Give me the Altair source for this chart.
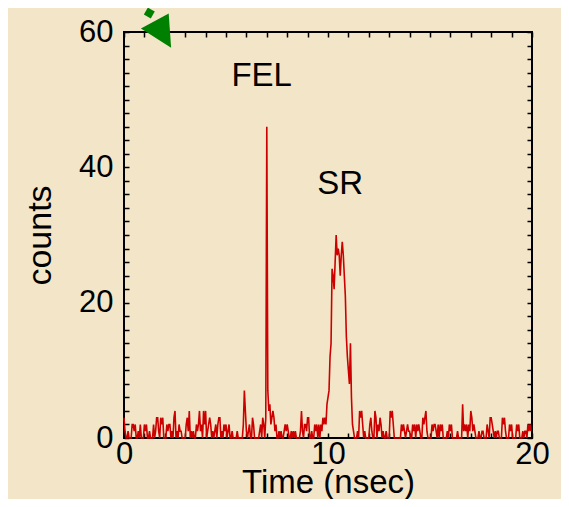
import altair as alt
import pandas as pd

# --- data ---
bin_width = 0.05  # nsec per channel

counts_0_5 = [3,1,0,0,1,0,0,0,2,2, 1,2,0,0,1,0,2,0,0,0, 2,1,2,0,0,1,0,0,0,2,
              0,1,3,3,1,0,3,2,3,0, 0,0,2,1,2,2,0,1,0,3, 4,0,1,0,2,1,1,0,0,0,
              0,2,3,1,4,0,1,0,1,0, 0,2,1,2,4,1,2,0,4,2, 4,0,1,2,3,2,0,1,0,1,
              2,0,2,3,3,0,1,0,2,1]
counts_5_10 = [2,0,1,2,0,0,1,0,0,0, 0,1,0,0,0,0,0,2,7,4, 1,0,1,2,0,0,3,2,0,0,
               0,0,0,1,2,0,3,2,0,3, 46,7,4,5,2,3,4,3,1,2, 0,0,1,0,1,0,0,1,2,1,
               2,1,0,0,1,0,1,0,1,0, 0,0,0,1,4,1,0,2,2,1, 3,3,0,0,1,0,0,2,1,2,
               0,2,0,2,1,3,2,3,2,5]
counts_10_15 = [6,7,12,14,25,24,22,26,30,27, 28,27,24,27,29,27,24,21,15,12,
                10,8,14,6,2,1,0,0,0,1, 0,4,3,4,2,0,1,0,0,0, 0,2,3,1,0,0,4,3,0,2,
                1,3,2,0,1,0,0,1,0,0, 0,4,3,4,2,0,0,0,0,0, 0,0,2,1,2,1,0,1,2,1,
                1,0,0,2,1,2,0,2,1,2, 1,0,0,3,2,3,4,1,0,0]
counts_15_20 = [0,0,2,1,2,2,1,0,2,0, 2,1,2,0,0,0,0,1,0,2, 1,2,0,0,0,0,0,1,0,0,
                0,0,5,1,2,1,2,0,2,1, 4,3,1,2,1,0,0,0,1,0, 0,1,1,0,0,0,2,1,0,3,
                3,2,1,0,1,0,1,1,0,0, 0,3,2,3,1,0,0,0,2,1, 2,0,0,0,0,2,1,2,0,0,
                0,1,0,1,1,0,2,1,2,1]

x_labels = [0, 10, 20]
y_labels = [0, 20, 40, 60]
x_ticks = list(range(0, 21))        # nsec, minor ticks
y_ticks = list(range(0, 61, 2))     # counts, minor ticks

labels = ["FEL", "SR"]
label_x = [6.75, 10.6]
label_y = [53.5, 37.5]

arrow_x = [1.78]
arrow_y = [60.3]
square_x = [1.24]
square_y = [62.8]

counts = counts_0_5 + counts_5_10 + counts_10_15 + counts_15_20
time = [round(i * bin_width, 2) for i in range(len(counts))]
df = pd.DataFrame({"t": time, "c": counts})
df_lab = pd.DataFrame({"t": label_x, "c": label_y, "lab": labels})
df_arrow = pd.DataFrame({"t": arrow_x, "c": arrow_y})
df_sq = pd.DataFrame({"t": square_x, "c": square_y})

FONT = "Liberation Sans"
W, H = 408, 406

xs = alt.Scale(domain=[0, 20], nice=False, zero=False)
ys = alt.Scale(domain=[0, 60], nice=False)

# inward ticks on all four sides, drawn as dashed grid lines (dash at each end)
ticks_layer = alt.Chart(df).mark_line(opacity=0).encode(
    x=alt.X("t:Q", scale=xs, axis=alt.Axis(
        orient="top", values=x_ticks, labels=False, ticks=False, domain=False,
        grid=True, gridDash=[5, H - 10], gridColor="black", gridWidth=1.5,
        gridOpacity=1, title=None)),
    y=alt.Y("c:Q", scale=ys, axis=alt.Axis(
        orient="right", values=y_ticks, labels=False, ticks=False, domain=False,
        grid=True, gridDash=[5, W - 10], gridColor="black", gridWidth=1.5,
        gridOpacity=1, title=None)),
)

x_axis = alt.Axis(
    values=x_labels, ticks=False, domain=False, grid=False,
    labelFont=FONT, labelFontSize=31, labelColor="black", labelPadding=1,
    labelOverlap=False, labelFlush=False,
    title="Time (nsec)", titleFont=FONT, titleFontSize=33,
    titleFontWeight="normal", titleColor="black",
    titleBaseline="alphabetic", titleY=54,
)
y_axis = alt.Axis(
    values=y_labels, ticks=False, domain=False, grid=False,
    labelFont=FONT, labelFontSize=31, labelColor="black", labelPadding=11,
    labelOverlap=False, labelFlush=False,
    title="counts", titleFont=FONT, titleFontSize=34,
    titleFontWeight="normal", titleColor="black", titlePadding=21,
)

line = alt.Chart(df).mark_line(color="#cc0000", strokeWidth=1.6).encode(
    x=alt.X("t:Q", scale=xs, axis=x_axis),
    y=alt.Y("c:Q", scale=ys, axis=y_axis),
    order="t:Q",
)

text = alt.Chart(df_lab).mark_text(
    font=FONT, fontSize=33, color="black", align="center", baseline="middle"
).encode(
    x=alt.X("t:Q", scale=xs, axis=None),
    y=alt.Y("c:Q", scale=ys, axis=None),
    text="lab:N",
)

arrow = alt.Chart(df_arrow).mark_point(
    shape="M -0.97 -0.07 L 0.42 -0.82 L 0.54 0.89 Z",
    size=1600, filled=True, color="#008000", opacity=1,
).encode(
    x=alt.X("t:Q", scale=xs, axis=None),
    y=alt.Y("c:Q", scale=ys, axis=None),
)

square = alt.Chart(df_sq).mark_point(
    shape="square", size=64, angle=30, filled=True, color="#008000", opacity=1,
).encode(
    x=alt.X("t:Q", scale=xs, axis=None),
    y=alt.Y("c:Q", scale=ys, axis=None),
)

chart = alt.layer(ticks_layer, line, text, arrow, square).resolve_scale(
    x="independent", y="independent"
).resolve_axis(
    x="independent", y="independent"
).properties(
    width=W, height=H,
    background="#F3E6C8",
    autosize=alt.AutoSizeParams(type="none"),
    padding={"left": 116, "top": 24, "right": 29, "bottom": 61},
).configure_view(stroke="black", strokeWidth=2)

chart.save("out.html", embed_options={"renderer": "svg", "actions": False})
